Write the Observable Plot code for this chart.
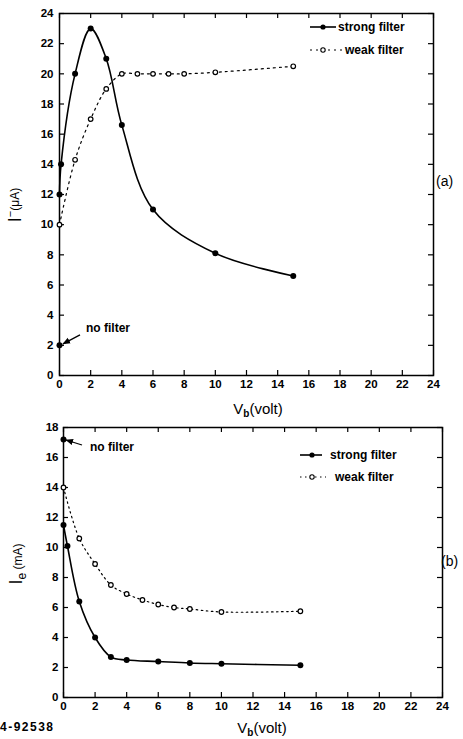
<!DOCTYPE html>
<html><head><meta charset="utf-8">
<script src="https://cdn.jsdelivr.net/npm/d3@7"></script>
<script src="https://cdn.jsdelivr.net/npm/@observablehq/plot@0.6"></script>
<style>
body{margin:0;background:#fff}
#c{position:relative;width:463px;height:739px;overflow:hidden;background:#fff}
#c svg{position:absolute;left:0}
</style>
</head><body><div id="c"></div>
<script>
// ---- tick values ----
const xTicks = [0,2,4,6,8,10,12,14,16,18,20,22,24];
const yTicksA = [0,2,4,6,8,10,12,14,16,18,20,22,24];
const yTicksB = [0,2,4,6,8,10,12,14,16,18];

// ---- panel (a): I- (uA) vs Vb (volt) ----
const vbStrongA = [0, 0.1, 1, 2, 3, 4, 6, 10, 15];
const iStrongA  = [12, 14, 20, 23, 21, 16.6, 11, 8.1, 6.6];
const vbWeakA   = [0, 1, 2, 3, 4, 5, 6, 7, 8, 10, 15];
const iWeakA    = [10, 14.3, 17, 19, 20, 20, 20, 20, 20, 20.1, 20.5];
const vbNoFilterA = [0];
const iNoFilterA  = [2];

// ---- panel (b): Ie (mA) vs Vb (volt) ----
const vbStrongB = [0, 0.25, 1, 2, 3, 4, 6, 8, 10, 15];
const iStrongB  = [11.5, 10.1, 6.4, 4, 2.7, 2.5, 2.4, 2.3, 2.25, 2.15];
const vbWeakB   = [0, 1, 2, 3, 4, 5, 6, 7, 8, 10, 15];
const iWeakB    = [14, 10.6, 8.9, 7.5, 6.9, 6.5, 6.2, 6.0, 5.9, 5.7, 5.75];
const vbNoFilterB = [0];
const iNoFilterB  = [17.2];

const rows = (xs, ys) => xs.map((x, i) => ({x, y: ys[i]}));
const FONT = "'Liberation Sans', Arial, sans-serif";
const W = 463;

function panel({height, mt, mb, ml, mr, yDomain, yTicks, strong, weak, noFilter, weakDash, tickPad}) {
  const innerH = height - mt - mb, innerW = W - ml - mr;
  return Plot.plot({
    width: W, height,
    marginTop: mt, marginBottom: mb, marginLeft: ml, marginRight: mr,
    x: {domain: [0, 24]},
    y: {domain: yDomain},
    style: {fontFamily: FONT, fontSize: "11.5px", fontWeight: "bold", color: "black", background: "white", overflow: "visible"},
    marks: [
      Plot.frame({stroke: "black", strokeWidth: 1.5}),
      Plot.tickX(xTicks, {x: d => d, insetTop: innerH - 5, strokeWidth: 1.2}),
      Plot.tickX(xTicks, {x: d => d, insetBottom: innerH - 5, strokeWidth: 1.2}),
      Plot.tickY(yTicks, {y: d => d, insetRight: innerW - 5, strokeWidth: 1.2}),
      Plot.tickY(yTicks, {y: d => d, insetLeft: innerW - 5, strokeWidth: 1.2}),
      Plot.axisX({ticks: xTicks, tickSize: 0, tickPadding: 4, label: null, tickFormat: d => d}),
      Plot.axisY({ticks: yTicks, tickSize: 0, tickPadding: tickPad, label: null, tickFormat: d => d}),
      Plot.line(weak, {x: "x", y: "y", curve: "catmull-rom", strokeDasharray: weakDash, strokeWidth: 1.2}),
      Plot.dot(weak, {x: "x", y: "y", r: 2.3, stroke: "black", fill: "white", strokeWidth: 1.2}),
      Plot.line(strong, {x: "x", y: "y", curve: "catmull-rom", strokeWidth: 1.6}),
      Plot.dot(strong, {x: "x", y: "y", r: 3, fill: "black"}),
      Plot.dot(noFilter, {x: "x", y: "y", r: 3, fill: "black"})
    ]
  });
}

function txt(s, x, y, size, weight) {
  return s.append("text").attr("x", x).attr("y", y).attr("dy", "0.35em")
    .attr("text-anchor", "start").attr("font-size", size).attr("font-weight", weight)
    .attr("font-family", FONT);
}

function addDecor(svg, o) {
  const s = d3.select(svg);
  const sx = svg.scale("x"), sy = svg.scale("y");
  s.append("defs").append("marker")
    .attr("id", "ah" + o.id).attr("viewBox", "0 0 10 10").attr("refX", 9).attr("refY", 5)
    .attr("markerWidth", 6).attr("markerHeight", 6).attr("orient", "auto")
    .append("path").attr("d", "M0,1L10,5L0,9z").attr("fill", "black");
  // legend
  const L = o.legend;
  s.append("line").attr("x1", L.x0).attr("x2", L.x1).attr("y1", L.y1).attr("y2", L.y1)
    .attr("stroke", "black").attr("stroke-width", 1.6);
  s.append("circle").attr("cx", L.mk).attr("cy", L.y1).attr("r", 2.6).attr("fill", "black");
  txt(s, L.t1, L.y1, 12, "bold").text("strong filter");
  s.append("line").attr("x1", L.x0).attr("x2", L.x2).attr("y1", L.y2).attr("y2", L.y2)
    .attr("stroke", "black").attr("stroke-width", 1.2).attr("stroke-dasharray", o.weakDash);
  s.append("circle").attr("cx", L.mk).attr("cy", L.y2).attr("r", 2.2).attr("fill", "white")
    .attr("stroke", "black").attr("stroke-width", 1.1);
  txt(s, L.t2, L.y2, 12, "bold").text("weak filter");
  // no filter annotation
  const px = sx.apply(o.nf.x), py = sy.apply(o.nf.y);
  s.append("line").attr("x1", px + o.arrow[0]).attr("y1", py + o.arrow[1])
    .attr("x2", px + o.arrow[2]).attr("y2", py + o.arrow[3])
    .attr("stroke", "black").attr("stroke-width", 1.3).attr("marker-end", `url(#ah${o.id})`);
  txt(s, px + o.nfText[0], py + o.nfText[1], 12, "bold").text("no filter");
  // panel tag
  txt(s, o.tag[0], o.tag[1], 14, "normal").text(o.tag[2]);
  // x label: V_b (volt)
  const xl = s.append("text").attr("x", o.xl[0]).attr("y", o.xl[1]).attr("text-anchor", "middle")
    .attr("font-size", 15).attr("font-weight", "normal").attr("font-family", FONT);
  xl.append("tspan").text("V");
  xl.append("tspan").attr("font-size", 10).attr("font-weight", "bold").attr("dy", 3).text("b");
  xl.append("tspan").attr("dy", -3).text("(volt)");
  // y label
  const yl = s.append("text").attr("transform", `translate(${o.yl[0]},${o.yl[1]}) rotate(-90)`)
    .attr("text-anchor", "middle").attr("font-weight", "normal").attr("font-family", FONT);
  yl.append("tspan").attr("font-size", 18).text("I");
  if (o.yl[2] === "sup") {
    yl.append("tspan").attr("font-size", 11).attr("dy", -7).text("−");
    yl.append("tspan").attr("font-size", 12).attr("dy", 5).text("(μA)");
  } else {
    yl.append("tspan").attr("font-size", 12).attr("dy", 4).text("e");
    yl.append("tspan").attr("font-size", 12).attr("dy", -4).text(" (mA)");
  }
}

const c = document.getElementById("c");

const svgA = panel({height: 420, mt: 13, mb: 45, ml: 59, mr: 30, yDomain: [0, 24], yTicks: yTicksA,
  strong: rows(vbStrongA, iStrongA), weak: rows(vbWeakA, iWeakA), noFilter: rows(vbNoFilterA, iNoFilterA),
  weakDash: "2,4", tickPad: 6});
svgA.style.top = "0px";
c.appendChild(svgA);
addDecor(svgA, {id: "a", weakDash: "2,4",
  legend: {x0: 310, x1: 336, x2: 342, mk: 323, y1: 27, y2: 50, t1: 338, t2: 345},
  nf: {x: vbNoFilterA[0], y: iNoFilterA[0]}, arrow: [21, -10, 4, -1], nfText: [27, -17],
  tag: [436, 181, "(a)"], xl: [258, 414], yl: [21, 205, "sup"]});

const svgB = panel({height: 319, mt: 7, mb: 42, ml: 63, mr: 21, yDomain: [0, 18], yTicks: yTicksB,
  strong: rows(vbStrongB, iStrongB), weak: rows(vbWeakB, iWeakB), noFilter: rows(vbNoFilterB, iNoFilterB),
  weakDash: "1.5,3.5", tickPad: 5});
svgB.style.top = "420px";
c.appendChild(svgB);
addDecor(svgB, {id: "b", weakDash: "1.5,3.5",
  legend: {x0: 300, x1: 322, x2: 326, mk: 312, y1: 35, y2: 57, t1: 330, t2: 335},
  nf: {x: vbNoFilterB[0], y: iNoFilterB[0]}, arrow: [19, 6, 3, 1], nfText: [27, 8],
  tag: [441, 141, "(b)"], xl: [262, 313], yl: [22, 144, "sub"]});
txt(d3.select(svgB), 0, 307, 12, "bold").attr("letter-spacing", 1.5).text("4-92538");
</script>
</body></html>
